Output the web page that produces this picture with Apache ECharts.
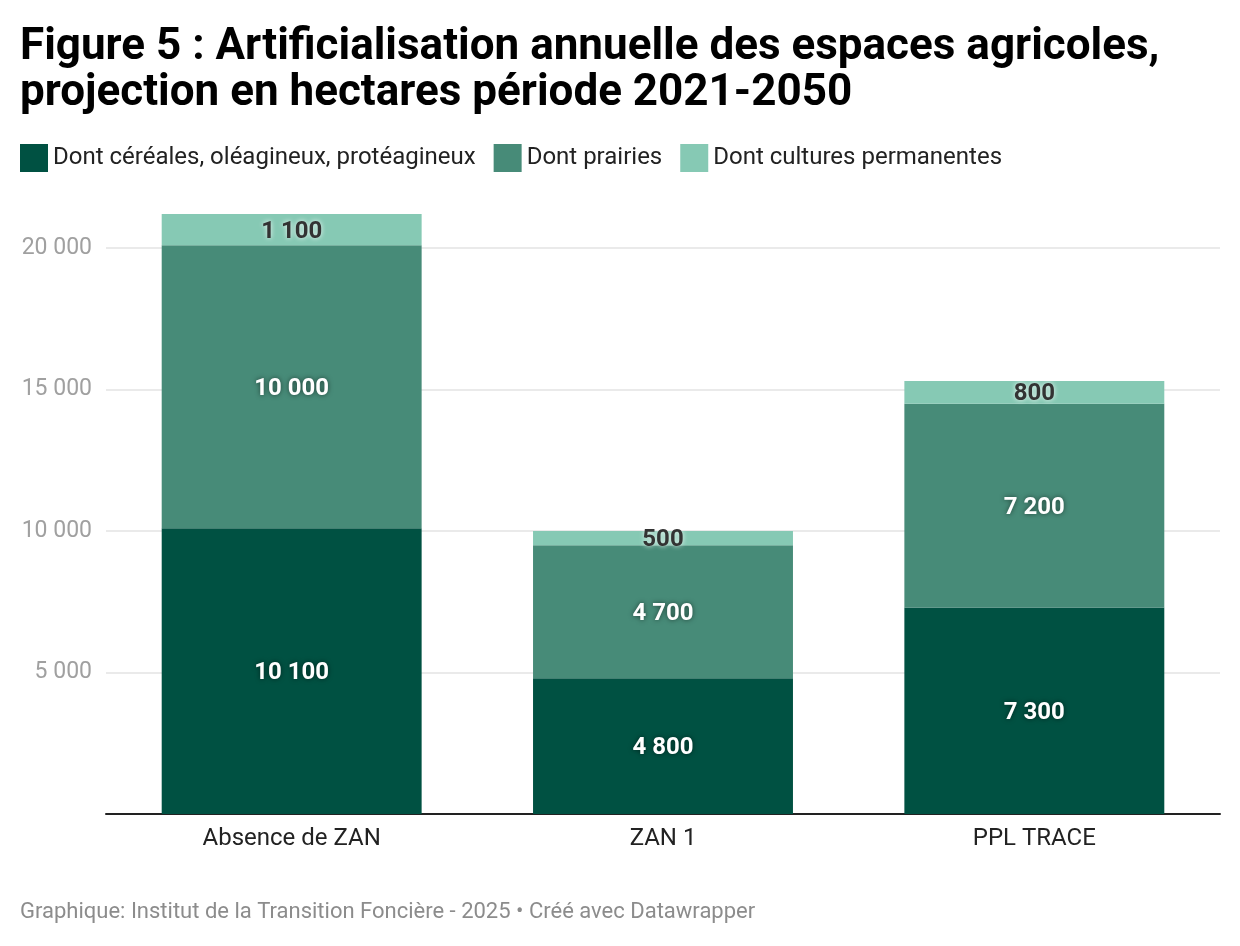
<!DOCTYPE html>
<html><head><meta charset="utf-8">
<script src="https://cdn.jsdelivr.net/npm/echarts@6/dist/echarts.min.js"></script>
<style>html,body{margin:0;padding:0;background:#fff;}#c{width:1240px;height:946px;}</style>
</head><body><div id="c"></div>
<script>
const categories = ["Absence de ZAN", "ZAN 1", "PPL TRACE"];
const seriesNames = ["Dont céréales, oléagineux, protéagineux", "Dont prairies", "Dont cultures permanentes"];
const cereales = [10100, 4800, 7300];
const prairies = [10000, 4700, 7200];
const permanentes = [1100, 500, 800];
const yTicks = [0, 5000, 10000, 15000, 20000];

const colors = ["#005142", "#478b78", "#86c9b4"];
const fmt = v => String(v).replace(/\B(?=(\d{3})+(?!\d))/g, " ");
const font = "Roboto";

function mkSeries(name, data, color, dark) {
  return {
    name, type: "bar", stack: "t", data, barWidth: "70%",
    itemStyle: { color },
    label: {
      show: true, position: "inside", offset: [0, 2], fontFamily: font, fontWeight: "bold", fontSize: 24,
      color: dark ? "#333333" : "#ffffff",
      textShadowColor: dark ? "rgba(255,255,255,0.9)" : "rgba(0,0,0,0.55)",
      textShadowBlur: 5,
      formatter: p => fmt(p.value)
    },
    emphasis: { disabled: true }
  };
}

const chart = echarts.init(document.getElementById("c"));
chart.setOption({
  animation: false,
  backgroundColor: "#fff",
  title: {
    text: "Figure 5 : Artificialisation annuelle des espaces agricoles,\nprojection en hectares période 2021-2050",
    left: 15, top: 20,
    textStyle: { fontFamily: font, fontWeight: "bold", fontSize: 44, lineHeight: 46, color: "#000" }
  },
  graphic: [{
    type: "text", left: 20, top: 901,
    style: { text: "Graphique: Institut de la Transition Foncière - 2025 • Créé avec Datawrapper",
      fontFamily: font, fontSize: 22, fill: "#8c8c8c" }
  }],
  legend: {
    left: 20, top: 144, padding: 0, itemWidth: 28, itemHeight: 28, itemGap: 18, icon: "rect",
    textStyle: { fontFamily: font, fontSize: 24, color: "#222" },
    data: seriesNames
  },
  grid: { left: 106, right: 20, top: 191.4, bottom: 132 },
  xAxis: {
    type: "category", data: categories,
    axisLine: { lineStyle: { color: "#222", width: 2 } },
    axisTick: { show: false },
    axisLabel: { fontFamily: font, fontSize: 24, color: "#222", margin: 13 }
  },
  yAxis: {
    type: "value", min: 0, max: 22000, interval: 5000,
    axisLine: { show: false }, axisTick: { show: false },
    splitLine: { lineStyle: { color: "#e3e3e3", width: 1.5 }, showMaxLine: false },
    axisLabel: {
      fontFamily: font, fontSize: 23, color: "#a0a0a0", margin: 14, showMaxLabel: false,
      formatter: v => (v === 0 || !yTicks.includes(v)) ? "" : fmt(v)
    }
  },
  series: [
    mkSeries(seriesNames[0], cereales, colors[0], false),
    mkSeries(seriesNames[1], prairies, colors[1], false),
    mkSeries(seriesNames[2], permanentes, colors[2], true)
  ]
});
</script></body></html>
